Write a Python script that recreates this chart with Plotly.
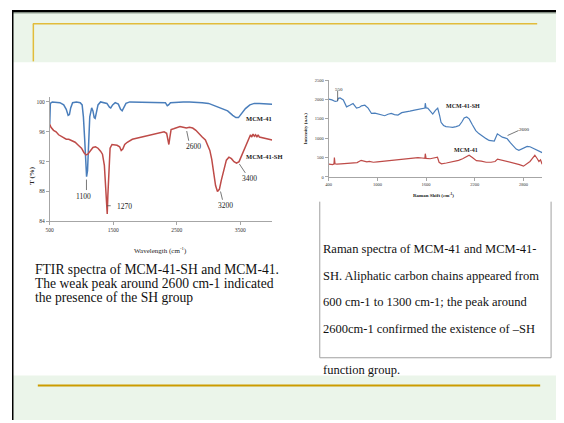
import plotly.graph_objects as go

# page offset of the plot div (browser body margin) and figure size that fits the window
OFF = 8
W, H = 564 - OFF, 423 - OFF

# ---------------- FTIR data (left chart) ----------------
ftir_mcm41_x = [500, 510, 540, 600, 660, 720, 760, 790, 810, 830, 860, 920, 980, 1010, 1030, 1050,
                1065, 1080, 1095, 1110, 1130, 1160, 1180, 1200, 1215, 1235, 1260, 1300, 1350, 1400,
                1440, 1460, 1490, 1530, 1580, 1615, 1640, 1665, 1700, 1760, 1850, 1950, 2050, 2150,
                2250, 2320, 2350, 2370, 2400, 2500, 2600, 2700, 2800, 2900, 3000, 3100, 3200, 3300,
                3380, 3430, 3470, 3520, 3580, 3650, 3720, 3800, 3900, 4000]
ftir_mcm41_y = [97.0, 99.8, 100.0, 99.9, 99.9, 99.6, 99.0, 98.2, 98.3, 99.2, 99.9, 100.0, 99.9, 99.6,
                98.0, 95.0, 92.0, 90.0, 90.8, 94.5, 98.0, 99.2, 98.8, 97.9, 97.8, 98.6, 99.6, 100.0,
                99.9, 99.8, 99.3, 99.2, 99.6, 99.9, 99.7, 99.0, 98.8, 99.3, 99.8, 100.0, 100.0, 100.0,
                100.0, 100.0, 99.9, 99.9, 99.5, 99.6, 99.9, 100.0, 100.0, 100.0, 100.0, 99.9, 99.8,
                99.5, 99.2, 98.8, 98.2, 97.9, 97.9, 98.4, 99.1, 99.6, 99.8, 99.8, 99.8, 99.7]

ftir_sh_x = [500, 520, 560, 600, 640, 680, 720, 760, 800, 850, 900, 950, 1000, 1040, 1070, 1100,
             1140, 1180, 1220, 1260, 1300, 1330, 1360, 1380, 1395, 1405, 1415, 1430, 1450, 1480,
             1520, 1560, 1600, 1625, 1650, 1680, 1720, 1800, 1900, 2000, 2100, 2200, 2300, 2340,
             2360, 2375, 2390, 2410, 2450, 2500, 2550, 2600, 2650, 2700, 2750, 2800, 2850, 2900,
             2950, 2990, 3020, 3050, 3080, 3110, 3140, 3170, 3200, 3240, 3280, 3320, 3360, 3400,
             3440, 3480, 3520, 3560, 3600, 3640, 3660, 3680, 3700, 3720, 3740, 3760, 3780, 3800,
             3850, 3900, 3950, 4000]
ftir_sh_y = [97.0, 96.6, 96.2, 96.0, 95.6, 95.4, 95.1, 95.0, 95.0, 94.8, 94.6, 94.2, 93.8, 93.2,
             92.9, 93.0, 93.5, 93.9, 94.0, 93.8, 93.4, 93.0, 91.5, 88.5, 85.5, 85.0, 87.5, 91.5,
             93.8, 94.3, 94.3, 94.2, 94.0, 93.5, 93.7, 94.3, 94.6, 95.0, 95.2, 95.4, 95.6, 95.8,
             96.0, 95.8, 94.8, 94.3, 95.2, 96.3, 96.4, 96.5, 96.7, 96.6, 96.5, 96.6, 96.5, 96.2,
             95.7, 95.3, 94.9, 94.2, 93.5, 92.3, 90.5, 88.8, 88.0, 88.3, 89.5, 91.0, 92.2, 92.6,
             92.4, 92.0, 91.8, 92.0, 92.8, 93.8, 94.6, 95.3, 95.6, 95.3, 95.7, 95.4, 95.6, 95.3,
             95.6, 95.3, 95.2, 95.1, 95.0, 94.9]

ftir_xticks = [500, 1500, 2500, 3500]
ftir_yticks = [84, 88, 92, 96, 100]

# ---------------- Raman data (right chart) ----------------
raman_sh_x = [400, 440, 480, 506, 520, 540, 580, 620, 660, 700, 743, 780, 804, 845, 886, 927, 970,
              1008, 1050, 1090, 1130, 1171, 1210, 1253, 1300, 1355, 1400, 1457, 1510, 1559, 1585,
              1590, 1600, 1620, 1650, 1682, 1715, 1743, 1765, 1784, 1815, 1845, 1890, 1927, 1970,
              2008, 2040, 2069, 2100, 2131, 2170, 2212, 2250, 2294, 2340, 2376, 2410, 2440, 2478,
              2510, 2539, 2570, 2600, 2640, 2682, 2710, 2743, 2784, 2815, 2845, 2880, 2906, 2940,
              2967, 3000, 3030]
raman_sh_y = [2010, 1990, 1950, 1960, 2030, 2040, 1990, 1810, 1850, 1895, 1777, 1800, 1836, 1853,
              1777, 1640, 1650, 1624, 1610, 1581, 1620, 1640, 1610, 1598, 1660, 1691, 1700, 1726,
              1750, 1777, 1780, 1904, 1780, 1777, 1700, 1624, 1720, 1777, 1600, 1411, 1330, 1300,
              1290, 1283, 1300, 1326, 1420, 1522, 1550, 1500, 1350, 1198, 1120, 1045, 990, 943,
              930, 926, 1113, 1060, 1028, 1010, 986, 880, 773, 720, 689, 731, 760, 790, 780, 756,
              720, 689, 660, 629]

raman_mcm_x = [400, 450, 465, 470, 478, 500, 550, 600, 650, 700, 750, 800, 830, 870, 900, 950,
               1000, 1050, 1100, 1150, 1200, 1250, 1300, 1350, 1400, 1450, 1500, 1550, 1585, 1590,
               1600, 1650, 1700, 1740, 1760, 1790, 1850, 1900, 1950, 2000, 2050, 2100, 2130, 2170,
               2220, 2280, 2340, 2400, 2450, 2480, 2520, 2560, 2600, 2650, 2700, 2750, 2800, 2840,
               2880, 2910, 2940, 2970, 2990, 3010, 3030]
raman_mcm_y = [330, 320, 340, 500, 340, 330, 340, 350, 360, 360, 370, 430, 420, 390, 400, 380,
               390, 400, 410, 420, 420, 440, 450, 460, 470, 480, 500, 490, 480, 600, 480, 470,
               490, 510, 380, 340, 360, 380, 400, 430, 470, 540, 560, 500, 420, 410, 380, 380,
               400, 460, 440, 420, 410, 390, 350, 320, 280, 340, 400, 480, 560, 470, 400, 440, 330]

raman_xticks = [400, 1000, 1600, 2200, 2800]
raman_yticks = [0, 500, 1000, 1500, 2000, 2500]

BLUE = "#4A7EBB"
RED = "#BE4B48"
SERIF = "Liberation Serif, Times New Roman, serif"


def px(x):
    """page x (reference pixels) -> paper fraction"""
    return (x - OFF) / W


def py(y):
    """page y (reference pixels) -> paper fraction"""
    return 1 - (y - OFF) / H


fig = go.Figure()
fig.add_trace(go.Scatter(x=ftir_mcm41_x, y=ftir_mcm41_y, mode="lines", xaxis="x", yaxis="y",
                         line=dict(color=BLUE, width=1.5), showlegend=False, name="MCM-41"))
fig.add_trace(go.Scatter(x=ftir_sh_x, y=ftir_sh_y, mode="lines", xaxis="x", yaxis="y",
                         line=dict(color=RED, width=1.5), showlegend=False, name="MCM-41-SH"))
fig.add_trace(go.Scatter(x=raman_sh_x, y=raman_sh_y, mode="lines", xaxis="x2", yaxis="y2",
                         line=dict(color=BLUE, width=1.2), showlegend=False, name="MCM-41-SH"))
fig.add_trace(go.Scatter(x=raman_mcm_x, y=raman_mcm_y, mode="lines", xaxis="x2", yaxis="y2",
                         line=dict(color=RED, width=1.2), showlegend=False, name="MCM-41"))

axis_common = dict(showgrid=False, zeroline=False, showline=True, linecolor="#A6A6A6",
                   linewidth=1, ticks="outside", ticklen=3, tickcolor="#A6A6A6")

fig.update_layout(
    width=W, height=H, margin=dict(l=0, r=0, t=0, b=0),
    paper_bgcolor="white", plot_bgcolor="rgba(0,0,0,0)",
    xaxis=dict(domain=[px(46), px(270)], range=[500, 4000], tickvals=ftir_xticks,
               tickfont=dict(family=SERIF, size=5.5, color="#333"), anchor="y", **axis_common),
    yaxis=dict(domain=[py(222), py(96.5)], range=[84, 100.6], tickvals=ftir_yticks,
               tickfont=dict(family=SERIF, size=5.5, color="#333"), anchor="x", **axis_common),
    xaxis2=dict(domain=[px(327), px(542)], range=[400, 3030], tickvals=raman_xticks,
                tickfont=dict(family=SERIF, size=4.5, color="#333"), anchor="y2", **axis_common),
    yaxis2=dict(domain=[py(177), py(79)], range=[0, 2500], tickvals=raman_yticks,
                tickfont=dict(family=SERIF, size=4.5, color="#333"), anchor="x2", **axis_common),
)

shapes = []
# slide background bands
shapes.append(dict(type="rect", xref="paper", yref="paper", x0=px(9), x1=1, y0=py(61), y1=py(10.5),
                   fillcolor="#EBF5EA", line=dict(width=0), layer="below"))
shapes.append(dict(type="rect", xref="paper", yref="paper", x0=px(9), x1=1, y0=0, y1=py(378),
                   fillcolor="#EBF5EA", line=dict(width=0), layer="below"))
# black frame
shapes.append(dict(type="rect", xref="paper", yref="paper", x0=0, x1=1, y0=py(10.5), y1=1,
                   fillcolor="black", line=dict(width=0)))
shapes.append(dict(type="line", xref="paper", yref="paper", x0=px(9), x1=1, y0=py(11), y1=py(11),
                   line=dict(color="#8A9A8A", width=1)))
shapes.append(dict(type="rect", xref="paper", yref="paper", x0=0, x1=px(9.5), y0=0, y1=1,
                   fillcolor="black", line=dict(width=0)))
# gold rules
shapes.append(dict(type="line", xref="paper", yref="paper", x0=px(29), x1=px(537), y0=py(22), y1=py(22),
                   line=dict(color="#E2BC3A", width=1.5)))
shapes.append(dict(type="line", xref="paper", yref="paper", x0=px(29.5), x1=px(29.5), y0=py(22), y1=py(60),
                   line=dict(color="#E2BC3A", width=1.5)))
shapes.append(dict(type="line", xref="paper", yref="paper", x0=px(34), x1=px(540), y0=py(388), y1=py(388),
                   line=dict(color="#CC9C00", width=2)))
# Raman caption box
for (x0, y0, x1, y1) in [(318, 202, 318, 360), (318, 360, 551, 360), (551, 202, 551, 360)]:
    shapes.append(dict(type="line", xref="paper", yref="paper", x0=px(x0), x1=px(x1),
                       y0=py(y0), y1=py(y1), line=dict(color="#A0A0A0", width=1)))

# leader lines (in data coords)
lead = dict(color="#555", width=0.8)
for xr, yr, pts in [("x", "y", (1078, 89.6, 1078, 88.2)),
                    ("x", "y", (1400, 86.1, 1460, 86.1)),
                    ("x", "y", (2656, 96.1, 2688, 94.8)),
                    ("x", "y", (3188, 88.0, 3219, 86.9)),
                    ("x", "y", (3484, 91.7, 3578, 90.5)),
                    ("x2", "y2", (510, 2219, 510, 1964)),
                    ("x2", "y2", (2604, 1071, 2739, 1199))]:
    shapes.append(dict(type="line", xref=xr, yref=yr, x0=pts[0], y0=pts[1], x1=pts[2], y1=pts[3], line=lead))

fig.update_layout(shapes=shapes)

ann = []


def add(text, x, y, size, xref="paper", yref="paper", bold=False, xanchor="center", angle=0,
        color="#222", family=SERIF):
    if bold:
        text = "<b>" + text + "</b>"
    ann.append(dict(text=text, x=x, y=y, xref=xref, yref=yref, showarrow=False, xanchor=xanchor,
                    yanchor="middle", textangle=angle, font=dict(family=family, size=size, color=color)))


# FTIR in-chart labels
add("1100", 1031, 87.3, 7.5, "x", "y")
add("1270", 1680, 86.0, 7.5, "x", "y")
add("2600", 2766, 94.05, 7.5, "x", "y")
add("3200", 3266, 86.1, 7.5, "x", "y")
add("3400", 3641, 89.8, 7.5, "x", "y")
add("MCM-41", 3797, 97.75, 6.5, "x", "y", bold=True)
add("MCM-41-SH", 3875, 92.7, 6.5, "x", "y", bold=True)
add("Wavelength (cm<sup>-1</sup>)", px(158), py(251), 7)
add("T (%)", px(28), py(175), 7, bold=True, angle=-90)

# Raman in-chart labels
add("550", 522, 2270, 5, "x2", "y2")
add("MCM-41-SH", 2053, 1837, 6, "x2", "y2", bold=True)
add("2600", 2812, 1224, 5, "x2", "y2")
add("MCM-41", 2090, 689, 6, "x2", "y2", bold=True)
add("Raman Shift (cm<sup>-1</sup>)", px(433), py(195), 5, bold=True)
add("Intensity (a.u.)", px(304), py(128), 5, bold=True, angle=-90)

# captions
left_lines = ["FTIR spectra of MCM-41-SH and MCM-41.",
              "The weak peak around 2600 cm-1 indicated",
              "the presence of the SH group"]
for i, t in enumerate(left_lines):
    add(t, px(29), py(271 + 14 * i), 13.6, xanchor="left", color="#111")

right_lines = ["Raman spectra of MCM-41 and MCM-41-",
               "SH. Aliphatic carbon chains appeared from",
               "600 cm-1 to 1300 cm-1; the peak around",
               "2600cm-1 confirmed the existence of \u2013SH",
               "function group."]
right_y = [250, 277, 304, 331, 372]
for t, yy in zip(right_lines, right_y):
    add(t, px(319), py(yy), 12.5, xanchor="left", color="#111")

fig.update_layout(annotations=ann)
fig.write_html("out.html")
